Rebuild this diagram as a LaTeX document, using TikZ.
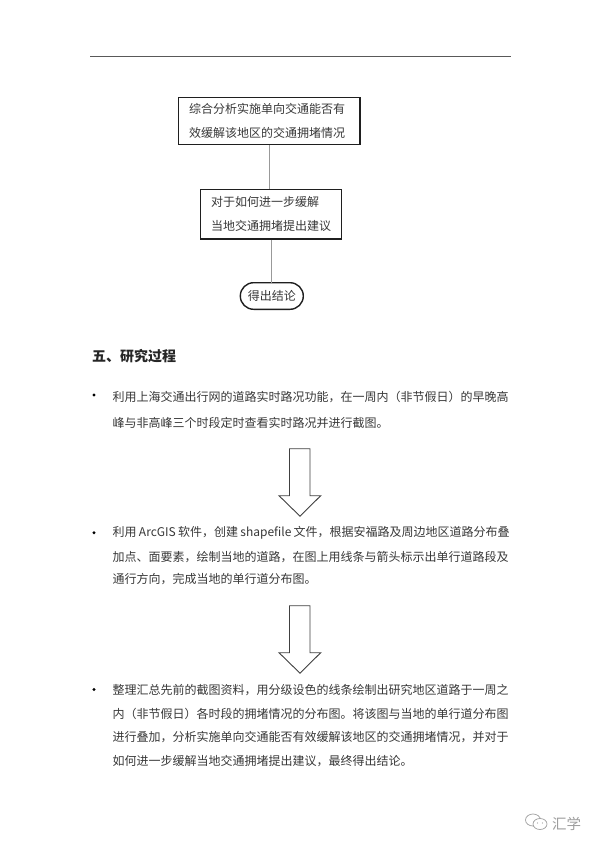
\documentclass[tikz,border=0pt]{standalone}
\usepackage{fontspec}
\setmainfont{Noto Sans CJK SC}
\usetikzlibrary{shapes.misc}
\XeTeXlinebreaklocale "zh"
\XeTeXlinebreakskip=0pt plus 1pt
\definecolor{inkgray}{gray}{0.22}
\definecolor{edgegray}{gray}{0.12}
\definecolor{linkgray}{gray}{0.6}
\definecolor{wmgray}{gray}{0.62}
\tikzset{
  flowbox/.style={draw=edgegray,line width=1.4pt,fill=white,text=inkgray,font=\fontsize{12}{24.2}\selectfont,align=left,inner sep=0pt},
  endbox/.style={draw=edgegray,line width=1.4pt,fill=white,text=inkgray,font=\fontsize{12}{14}\selectfont,rounded rectangle,inner sep=0pt},
  flowlink/.style={draw=linkgray,line width=1.1pt},
  bodyline/.style={anchor=west,inner sep=0pt,text=inkgray,font=\fontsize{12}{14}\selectfont},
  heading/.style={anchor=west,inner sep=0pt,text=black!85,font=\fontsize{14}{16}\selectfont\bfseries},
  bulletdot/.style={circle,fill=black,inner sep=0pt,minimum size=3.2pt},
  blockarrow/.style={draw=black!75,line width=0.9pt,fill=white,line join=miter},
  wmline/.style={draw=wmgray,line width=0.7pt},
}
\newcommand{\downblock}[1]{%
  \draw[blockarrow] (289.5,#1) -- (310,#1) -- (310,#1+47) -- (320.7,#1+47) -- (300,#1+67.5) -- (279,#1+47) -- (289.5,#1+47) -- cycle;}
\begin{document}
\begin{tikzpicture}[x=1pt,y=-1pt]
\useasboundingbox (0,0) rectangle (600,848);
\fill[white] (0,0) rectangle (600,848);
\coordinate (ruleL) at (90,56.3);
\coordinate (ruleR) at (511,56.3);
\draw[draw=black!65,line width=1pt] (ruleL) -- (ruleR);

\node[flowbox,minimum width=181.7pt,minimum height=46.6pt] (b1) at (269.2,121) {综合分析实施单向交通能否有\hspace*{4pt}\\效缓解该地区的交通拥堵情况\hspace*{4pt}};
\node[flowbox,minimum width=141pt,minimum height=49.7pt] (b2) at (271.2,214.2) {对于如何进一步缓解\\当地交通拥堵提出建议};
\node[endbox,minimum width=63pt,minimum height=26.6pt] (b3) at (271.8,296) {得出结论};
\coordinate (b1top) at (269.7,189.3);
\draw[flowlink] (b1.south -| b1top) -- (b1top);
\coordinate (b2bot) at (271.7,282.7);
\draw[flowlink] (b2.south -| b2bot) -- (b2bot);

\node[heading] (h) at (92,356) {五、研究过程};

\node[bulletdot] (d1) at (94,395) {};
\node[bodyline] (l1) at (112.5,396.7) {利用上海交通出行网的道路实时路况功能，在一周内（非节假日）的早晚高};
\node[bodyline] (l2) at (112.5,423.3) {峰与非高峰三个时段定时查看实时路况并进行截图。};

\downblock{448.7}

\node[bulletdot] (d2) at (94,532.7) {};
\node[bodyline] (l3) at (112.5,532.7) {\hbox to 397pt{利用 ArcGIS 软件，创建 shapefile 文件，根据安福路及周边地区道路分布叠}};
\node[bodyline] (l4) at (112.5,557.3) {加点、面要素，绘制当地的道路，在图上用线条与箭头标示出单行道路段及};
\node[bodyline] (l5) at (112.5,579.3) {通行方向，完成当地的单行道分布图。};

\downblock{605.7}

\node[bulletdot] (d3) at (94,689.5) {};
\node[bodyline] (l6) at (112.5,690) {整理汇总先前的截图资料，用分级设色的线条绘制出研究地区道路于一周之};
\node[bodyline] (l7) at (112.5,714) {内（非节假日）各时段的拥堵情况的分布图。将该图与当地的单行道分布图};
\node[bodyline] (l8) at (112.5,737.3) {进行叠加，分析实施单向交通能否有效缓解该地区的交通拥堵情况，并对于};
\node[bodyline] (l9) at (112.5,761) {如何进一步缓解当地交通拥堵提出建议，最终得出结论。};

% watermark
\draw[wmline] (533,820) ellipse (7.5pt and 6pt);
\draw[wmline,fill=white] (540,824) ellipse (7pt and 5.5pt);
\fill[wmgray] (537.5,823) circle (0.7pt) (542.5,823) circle (0.7pt);
\node[inner sep=0pt,text=wmgray,font=\fontsize{14.5}{16}\selectfont] (wm) at (566.5,823.5) {汇学};
\end{tikzpicture}
\end{document}
